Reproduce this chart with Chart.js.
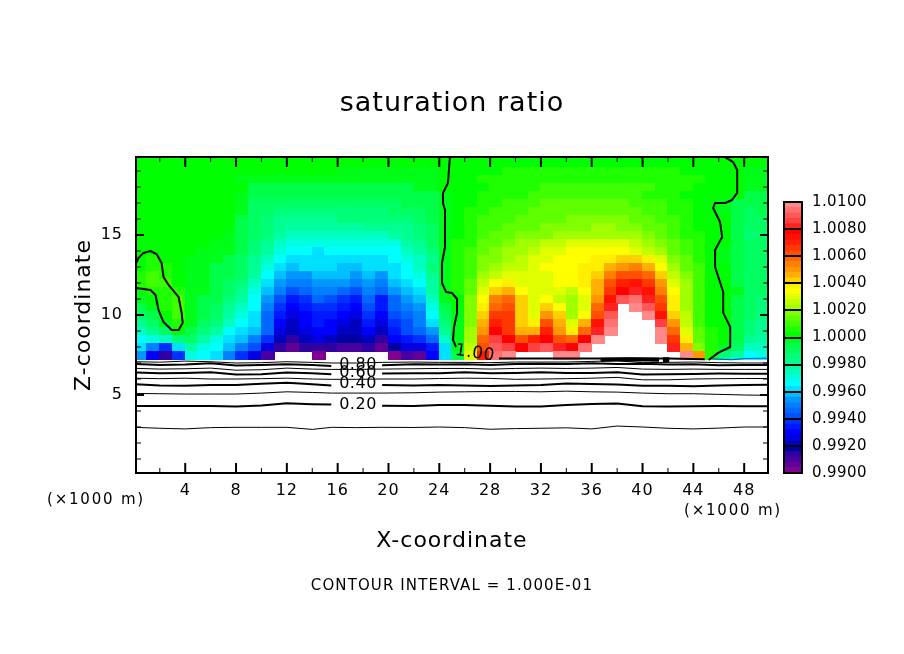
<!DOCTYPE html>
<html><head><meta charset="utf-8">
<style>html,body{margin:0;padding:0;background:#fff;width:904px;height:654px;overflow:hidden}
canvas{position:absolute;display:block}</style>
<script src="https://cdn.jsdelivr.net/npm/chart.js@4/dist/chart.umd.min.js"></script>
</head><body>
<canvas id="main" width="904" height="654" style="left:0;top:0;width:904px;height:654px"></canvas>
<canvas id="bar" width="134" height="309" style="left:770px;top:183px;width:134px;height:309px"></canvas>
<script>
const _ = null;
// saturation ratio field, units of 1e-4 about 1.0000, one row per height (km), columns x = 0.5 ... 49.5 km
const z200=[3,3,3,3,3,3,3,3,3,3, 3,3,3,3,3,3,3,3,3,3, 3,3,3,3,3,3,3,3,3,3, 3,3,3,3,3,3,3,3,3,3, 3,3,3,3,3,3,2,1,1,1];
const z195=[3,3,3,3,3,3,3,3,2,2, 2,2,2,2,2,2,2,2,2,2, 2,2,2,2,3,3,3,3,3,3, 3,3,3,3,3,3,3,3,3,3, 3,3,3,3,3,3,2,0,0,0];
const z190=[2,2,2,2,2,2,2,2,0,0, 0,0,0,0,0,0,-1,-1,-1,-1, -1,-1,-1,-1,3,3,3,3,3,4, 4,4,4,4,4,4,4,4,4,4, 4,4,4,3,3,3,2,1,-2,-2];
const z185=[2,2,2,2,2,2,2,2,-2,-2, -2,-2,-2,-4,-4,-4,-4,-4,-4,-4, -4,-4,-3,-3,2,2,2,4,4,4, 4,4,6,6,6,6,6,6,6,6, 6,6,4,4,4,3,2,1,-3,-3];
const z180=[2,2,2,2,2,2,2,2,0,-5, -5,-5,-6,-6,-6,-6,-6,-6,-6,-6, -6,-6,-4,-4,0,3,3,3,6,6, 6,6,8,8,8,8,8,8,8,8, 8,5,5,5,2,2,1,1,-4,-4];
const z175=[1,1,1,1,1,1,1,1,-2,-7, -7,-7,-8,-8,-8,-8,-8,-8,-8,-8, -8,-6,-6,-6,-1,2,2,6,6,6, 6,10,10,10,10,10,10,10,10,10, 7,7,7,3,3,2,1,0,-5,-5];
const z170=[1,1,1,1,1,1,1,0,-3,-9, -9,-9,-11,-12,-12,-12,-11,-11,-11,-11, -10,-8,-8,-8,-1,2,3,7,7,8, 10,11,12,12,13,13,13,12,12,11, 9,8,7,4,2,0,-3,-5,-6,-6];
const z165=[1,1,1,1,1,1,1,0,-4,-10, -12,-14,-14,-15,-15,-15,-14,-14,-14,-13, -12,-11,-10,-8,-1,2,4,7,8,9, 11,12,13,14,15,15,15,15,14,13, 11,9,7,5,3,1,-3,-7,-9,-8];
const z160=[1,1,1,1,1,1,1,0,-6,-10, -14,-17,-18,-19,-18,-17,-16,-16,-16,-16, -15,-14,-11,-8,-1,2,5,8,9,10, 12,13,14,15,16,16,17,16,16,15, 12,10,8,5,3,2,0,-7,-10,-10];
const z155=[0,1,1,1,1,0,0,0,-6,-10, -15,-20,-22,-23,-22,-21,-21,-21,-20,-20, -19,-18,-14,-9,-1,3,5,9,11,13, 14,15,16,17,19,19,20,20,19,18, 15,12,9,6,3,2,0,-7,-12,-11];
const z150=[0,1,1,1,0,0,0,-1,-6,-11, -16,-22,-26,-27,-28,-26,-26,-27,-25,-25, -24,-20,-16,-10,-1,3,6,10,12,14, 16,18,19,20,21,22,23,23,22,21, 18,14,11,7,4,2,0,-7,-14,-12];
const z145=[1,1,2,1,0,0,-1,-2,-7,-13, -20,-26,-30,-32,-32,-31,-31,-31,-30,-30, -29,-24,-19,-12,-1,4,7,12,14,17, 20,23,25,27,28,29,29,29,28,27, 22,17,12,8,5,2,0,-7,-12,-12];
const z140=[1,2,2,1,0,-1,-3,-4,-8,-15, -22,-30,-34,-36,-37,-36,-36,-36,-35,-35, -34,-28,-22,-14,-2,4,8,14,16,20, 23,26,30,31,32,33,33,33,32,31, 26,20,15,10,6,2,-1,-7,-10,-10];
const z135=[2,4,3,1,-1,-2,-4,-6,-9,-17, -28,-35,-38,-38,-38,-38,-39,-38,-38,-38, -36,-32,-26,-17,-2,5,8,16,18,22, 25,28,31,33,34,35,36,38,40,41, 38,28,18,12,7,2,-1,-8,-10,-10];
const z130=[3,7,4,1,-1,-3,-5,-7,-11,-19, -32,-38,-41,-40,-39,-39,-41,-41,-39,-40, -37,-33,-28,-16,-2,5,10,16,20,24, 26,28,32,33,34,36,38,44,50,52, 46,34,20,14,8,3,0,-8,-11,-10];
const z125=[6,9,6,2,-1,-3,-5,-8,-12,-22, -36,-43,-47,-45,-42,-42,-44,-45,-42,-45, -40,-35,-32,-20,-2,5,11,20,26,28, 28,30,31,33,33,36,40,52,60,62, 56,42,26,16,9,3,0,-7,-11,-11];
const z120=[6,10,8,3,-2,-3,-6,-9,-15,-26, -40,-48,-52,-50,-46,-45,-48,-50,-45,-50, -42,-38,-36,-24,-3,4,12,24,33,36, 30,30,30,32,33,36,44,60,70,72, 66,48,30,20,10,3,0,-6,-12,-12];
const z115=[2,5,6,5,-2,-4,-7,-11,-18,-30, -44,-52,-60,-56,-50,-52,-54,-57,-50,-56, -48,-42,-38,-24,-3,4,14,28,42,46, 34,28,30,29,26,32,46,66,78,82, 72,54,32,20,9,3,0,-4,-9,-12];
const z110=[-2,0,6,8,-2,-5,-8,-15,-22,-34, -48,-60,-67,-62,-56,-58,-62,-65,-55,-65, -54,-48,-42,-28,-4,2,16,34,52,56, 40,28,32,26,20,30,50,72,88,92, 80,60,36,20,8,3,0,-5,-10,-14];
const z105=[-6,-3,4,8,-2,-6,-10,-20,-28,-36, -50,-64,-72,-66,-62,-63,-66,-70,-60,-68, -56,-52,-46,-32,-6,1,18,38,58,60, 42,30,40,33,20,30,56,82,_,98, 88,66,38,22,8,3,0,-5,-11,-15];
const z100=[-10,-5,2,8,-3,-8,-12,-24,-32,-38, -54,-68,-76,-70,-66,-67,-70,-74,-64,-72, -60,-56,-50,-36,-10,-1,18,40,64,66, 42,30,50,40,20,32,62,90,_,_, 96,74,40,24,8,3,0,-5,-12,-16];
const z95=[-18,-12,-4,5,-4,-10,-16,-28,-35,-40, -56,-72,-78,-72,-68,-70,-74,-77,-68,-75, -64,-58,-52,-40,-14,-1,19,45,70,66, 43,38,60,45,28,45,72,95,_,_, _,86,48,26,10,3,0,-6,-14,-18];
const z90=[-26,-20,-12,0,-5,-14,-22,-34,-38,-42, -56,-74,-80,-74,-70,-72,-77,-79,-71,-78, -68,-60,-54,-48,-18,-1,20,50,76,66, 44,46,70,50,36,58,80,98,_,_, _,96,56,30,12,4,0,-6,-16,-20];
const z85=[-34,-30,-28,-14,-12,-22,-30,-40,-44,-50, -64,-78,-86,-80,-76,-78,-82,-83,-77,-85, -72,-66,-64,-56,-28,-2,20,56,84,76, 60,68,78,62,56,76,96,_,_,_, _,98,66,36,14,5,0,-7,-20,-24];
const z80=[-40,-50,-62,-40,-22,-30,-36,-44,-52,-60, -74,-87,-94,-88,-85,-88,-90,-90,-86,-94, -82,-76,-74,-66,-38,-3,24,62,90,86, 76,84,90,80,76,92,_,_,_,_, _,_,80,46,18,5,-1,-10,-26,-26];
const z75=[-46,-72,-86,-62,-30,-36,-40,-50,-64,-76, -92,_,_,_,-98,_,_,_,_,_, -98,-92,-96,-72,-40,-8,28,70,94,98, _,_,_,98,98,_,_,_,_,_, _,_,_,98,50,4,-16,-24,-34,-30];
const fieldRows=[z200,z195,z190,z185,z180,z175,z170,z165,z160,z155,z150,z145,z140,z135,z130,z125,z120,z115,z110,z105,z100,z95,z90,z85,z80,z75];
const fieldHeights=[20,19.5,19,18.5,18,17.5,17,16.5,16,15.5,15,14.5,14,13.5,13,12.5,12,11.5,11,10.5,10,9.5,9,8.5,8,7.5];
// colour bands, 0.0004 wide, from 0.9900 upward
const bandColors=['#800090','#600098','#4800a0','#3000a0','#0000a0','#0000c0','#0000e0','#0000ff','#0018ff','#0030ff','#0050ff','#0068ff','#0080ff','#0098ff','#00c0ff','#00e0ff','#00ffff','#00ffe0','#00ffc0','#00ffa0','#00ff90','#00ff78','#00ff60','#00ff48','#00ff18','#00ff00','#20ff00','#40ff00','#60ff00','#80ff00','#a0ff00','#c0ff00','#e0ff00','#ffff00','#fff000','#ffd000','#ffb000','#ff9800','#ff8000','#ff6800','#ff5000','#ff3800','#ff2000','#ff1000','#ff0000','#ff2020','#ff4040','#ff5858','#ff7070','#ff8888'];
// contour lines below the cloud layer, heights in km at lowerX
const lowerX=[0,2,4,6,8,10,12,14,15.5,17.5,19.5,22,24,26,28,30,32,34,36,38,40,42,44,46,48,50];
const c10=[2.98,2.92,2.88,2.96,2.98,2.98,2.98,2.85,2.98,2.96,2.98,2.97,3.0,2.96,2.86,2.9,2.92,2.95,2.88,3.06,3.0,2.92,2.88,2.93,3.0,3.0];
const c20=[4.31,4.31,4.31,4.31,4.28,4.35,4.48,4.42,4.4,null,4.33,4.31,4.37,4.37,4.33,4.28,4.28,4.37,4.43,4.47,4.3,4.28,4.3,4.31,4.3,4.3];
const c30=[5.1,5.08,5.06,5.06,5.06,5.12,5.2,5.16,5.12,5.12,5.12,5.14,5.18,5.2,5.22,5.22,5.2,5.24,5.2,5.18,5.12,5.08,5.08,5.04,5.0,4.98];
const c40=[5.67,5.6,5.58,5.62,5.62,5.7,5.77,5.67,5.6,null,5.62,5.6,5.62,5.6,5.56,5.6,5.62,5.72,5.68,5.65,5.58,5.58,5.54,5.6,5.62,5.65];
const c50=[6.05,6.02,6.05,6.0,6.0,6.02,6.05,6.0,5.98,5.98,6.0,6.0,6.03,6.05,6.04,5.98,6.0,6.02,6.05,6.1,5.95,5.95,6.0,6.02,6.03,6.03];
const c60=[6.41,6.36,6.38,6.42,6.28,6.3,6.4,6.36,6.3,null,6.35,6.36,6.36,6.42,6.36,6.38,6.42,6.38,6.38,6.42,6.28,6.3,6.32,6.34,6.33,6.33];
const c70=[6.67,6.62,6.64,6.68,6.55,6.58,6.68,6.62,6.6,6.6,6.62,6.64,6.66,6.66,6.62,6.66,6.68,6.66,6.68,6.72,6.62,6.6,6.62,6.6,6.6,6.6];
const c80=[6.94,6.88,6.9,6.98,6.85,6.88,6.92,6.88,6.82,null,6.86,6.92,6.9,6.92,6.88,6.94,6.96,6.94,6.98,6.94,6.96,6.9,6.92,6.86,6.88,6.88];
const c90=[7.08,7.05,7.12,7.08,7.0,7.02,7.08,7.04,7.0,7.0,7.04,7.06,7.04,7.04,7.02,7.06,7.06,7.06,7.1,7.14,7.02,7.04,7.06,7.02,7.0,7.0];
// the 1.00 contours, x and z in km
const midX=[24.84,24.76,24.68,24.29,24.29,24.45,24.45,24.21,24.21,24.53,25.0,25.4,25.4,25.16,25.08,25.32];
const midZ=[19.87,19.06,18.25,17.62,17.0,16.56,14.25,13.25,12.0,11.44,11.38,11.0,10.12,9.25,8.44,8.0];
const loopX=[0,0.32,0.71,1.27,1.74,2.14,2.29,2.69,3.48,3.72,3.8,3.48,2.93,2.29,1.9,1.66,1.27,0.16,0];
const loopZ=[13.0,13.56,13.88,14.0,13.81,13.25,12.38,11.88,11.12,10.12,9.5,9.06,9.06,9.56,10.31,11.25,11.56,11.69,11.69];
const eastX=[46.5,47.13,47.45,47.45,47.05,46.5,45.7,45.56,46.1,46.27,45.71,45.71,46.35,46.35,46.9,46.9,45.95,45.2];
const eastZ=[19.87,19.56,19.06,17.63,17.19,17.0,17.0,16.69,15.81,14.88,14.06,13.0,11.44,10.13,9.25,8.0,7.63,7.19];
const groundX=[28.7,34,38,42,44.9];
const groundZ=[7.28,7.28,7.28,7.28,7.24];
const blobX=[36.7,39,41.3];
const blobZ=[7.2,7.24,7.2];
const blob2X=[41.6,42.1];
const blob2Z=[7.2,7.2];
const edgeX=[45.5,47,48,49.9];
const edgeZ=[7.26,7.2,7.28,7.3];
const xTickMajor=[4,8,12,16,20,24,28,32,36,40,44,48];
const xTickMinor=[2,6,10,14,18,22,26,30,34,38,42,46];
const zTickMajor=[5,10,15];
const zTickMinor=[1,2,3,4,6,7,8,9,11,12,13,14,16,17,18,19];
const contourLabels=[['0.80',17.6,6.9],['0.60',17.6,6.38],['0.40',17.6,5.7],['0.20',17.6,4.38]];
const barTickStep=0.002;

const FONT='"DejaVu Sans"';
const cellCanvas=c=>{const t=document.createElement('canvas');t.width=14;t.height=9;const g=t.getContext('2d');g.fillStyle=c;g.fillRect(0,0,14,9);return t;};
const tiles=bandColors.map(cellCanvas);
const bandIndex=v=>Math.max(0,Math.min(bandColors.length-1,Math.floor((v+100)/4)));
const cells=[];
fieldRows.forEach((r,j)=>r.forEach((v,i)=>{if(v!==null)cells.push({x:i+0.5,y:fieldHeights[j],v});}));
const pts=(xs,zs)=>xs.map((x,i)=>({x,y:zs[i]}));
const line=(label,xs,zs,w,color='#000')=>({type:'scatter',label,data:pts(xs,zs),showLine:true,borderColor:color,borderWidth:w,pointRadius:0,spanGaps:false,order:1,tension:0,borderJoinStyle:'round'});

const overlay={id:'overlay',
 beforeDraw(c){c.ctx.letterSpacing='1px';},
 afterDraw(c){const g=c.ctx,a=c.chartArea,X=c.scales.x,Y=c.scales.y;g.save();g.strokeStyle='#000';
  const tick=(px,py,dx,dy,w)=>{g.lineWidth=w;g.beginPath();g.moveTo(px,py);g.lineTo(px+dx,py+dy);g.stroke();};
  xTickMajor.forEach(v=>{const p=X.getPixelForValue(v);tick(p,a.bottom,0,-10,2);tick(p,a.top,0,10,2);});
  xTickMinor.forEach(v=>{const p=X.getPixelForValue(v);tick(p,a.bottom,0,-5,1);tick(p,a.top,0,5,1);});
  zTickMajor.forEach(v=>{const p=Y.getPixelForValue(v);tick(a.left,p,8,0,2);tick(a.right,p,-8,0,2);});
  zTickMinor.forEach(v=>{const p=Y.getPixelForValue(v);tick(a.left,p,5,0,1);tick(a.right,p,-5,0,1);});
  g.lineWidth=2;g.strokeRect(a.left,a.top,a.right-a.left,a.bottom-a.top);
  g.fillStyle='#000';g.textBaseline='middle';g.textAlign='center';
  g.font='16px '+FONT;g.letterSpacing='0.5px';
  contourLabels.forEach(([t,x,z])=>g.fillText(t,X.getPixelForValue(x),Y.getPixelForValue(z)));
  g.save();g.translate(X.getPixelForValue(26.8),Y.getPixelForValue(7.6));g.rotate(0.15);g.font='17px '+FONT;g.fillText('1.00',0,0);g.restore();
  g.font='15px '+FONT;g.letterSpacing='1.8px';
  g.fillText('(×1000 m)',96,500);g.fillText('(×1000 m)',733,511);
  g.font='15px '+FONT;g.letterSpacing='1.1px';
  g.fillText('CONTOUR INTERVAL = 1.000E-01',452,586);
  g.restore();}
};

Chart.defaults.animation=false;
Chart.defaults.font.family=FONT;
Chart.defaults.color='#000';
new Chart(document.getElementById('main'),{
 type:'scatter',
 data:{datasets:[
  {label:'saturation ratio',data:cells,order:10,clip:0,pointStyle:c=>tiles[bandIndex(c.raw?c.raw.v:0)],pointRadius:7,pointHoverRadius:7,showLine:false,pointBorderWidth:0},
  line('1.00 mid',midX,midZ,2),line('1.00 loop',loopX,loopZ,2),line('1.00 east',eastX,eastZ,2),
  line('ground',groundX,groundZ,2),line('blob',blobX,blobZ,4),line('blob2',blob2X,blob2Z,5),line('edge',edgeX,edgeZ,1,'#0040ff'),
  line('0.90',lowerX,c90,1),line('0.80',lowerX,c80,2),line('0.70',lowerX,c70,1),line('0.60',lowerX,c60,2),line('0.50',lowerX,c50,1),line('0.40',lowerX,c40,2),line('0.30',lowerX,c30,1),line('0.20',lowerX,c20,2),line('0.10',lowerX,c10,1)
 ]},
 options:{responsive:false,animation:false,events:[],devicePixelRatio:1,
  layout:{padding:0},
  plugins:{legend:{display:false},tooltip:{enabled:false},
   title:{display:true,text:'saturation ratio',font:{size:27,weight:'normal'},color:'#000',padding:{top:88,bottom:36.6}}},
  scales:{
   x:{type:'linear',min:0.125,max:49.875,grid:{display:false,drawTicks:false},border:{display:false},
      ticks:{stepSize:4,includeBounds:false,autoSkip:false,maxRotation:0,padding:8,font:{size:16},callback:v=>v},
      title:{display:true,text:'X-coordinate',font:{size:22},color:'#000',padding:{bottom:100,top:0}},
      afterFit(s){s.height=181;}},
   y:{type:'linear',min:0.125,max:19.875,grid:{display:false,drawTicks:false},border:{display:false},
      ticks:{stepSize:5,includeBounds:false,autoSkip:false,padding:13,font:{size:16},callback:v=>v},
      title:{display:true,text:'Z-coordinate',font:{size:22},color:'#000',padding:{top:71,bottom:0}},
      afterFit(s){s.width=136;}},
   rightMargin:{type:'linear',position:'right',display:true,grid:{display:false,drawTicks:false},border:{display:false},ticks:{display:false},afterFit(s){s.width=136;}}
   },
  },
 plugins:[overlay]
});
const bands=bandColors.map((col,i)=>({label:(0.99+i*0.0004).toFixed(4),data:[[0.99+i*0.0004,0.99+(i+1)*0.0004]],backgroundColor:col,grouped:false,barPercentage:1,categoryPercentage:1}));
new Chart(document.getElementById('bar'),{
 type:'bar',
 data:{labels:['scale'],datasets:bands},
 options:{responsive:false,animation:false,events:[],devicePixelRatio:1,
  layout:{padding:{left:14}},
  plugins:{legend:{display:false},tooltip:{enabled:false}},
  scales:{x:{display:false,stacked:false},
   y:{position:'right',min:0.99,max:1.01,grid:{color:'#000',lineWidth:2,drawTicks:false,z:1},border:{display:false},
      ticks:{stepSize:barTickStep,autoSkip:false,padding:10,font:{size:15},color:'#000',callback:v=>Number(v).toFixed(4)},
      afterFit(s){s.width=102;}}}
 },
 plugins:[{id:'frame',beforeDraw(c){c.ctx.letterSpacing='0.4px';},afterDraw(c){const a=c.chartArea,g=c.ctx;g.save();g.strokeStyle='#000';g.lineWidth=2;g.strokeRect(a.left,a.top,a.right-a.left,a.bottom-a.top);g.restore();}}]
});
</script>
</body></html>
